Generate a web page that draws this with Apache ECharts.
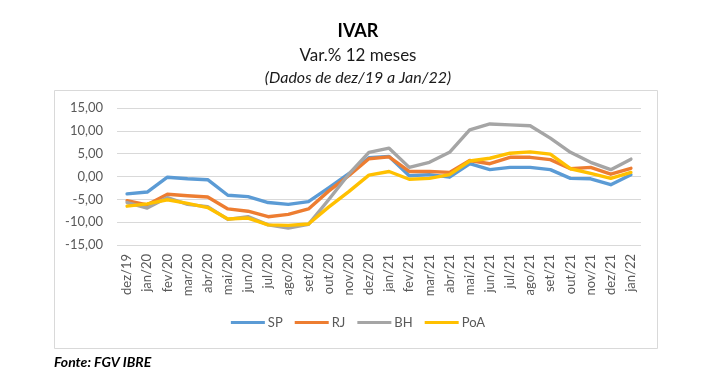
<!DOCTYPE html>
<html><head><meta charset="utf-8">
<script src="https://cdn.jsdelivr.net/npm/echarts@6/dist/echarts.min.js"></script>
<style>html,body{margin:0;padding:0;background:#fff}#c{width:716px;height:392px}</style>
</head><body><div id="c"></div>
<script>
const categories = ['dez/19','jan/20','fev/20','mar/20','abr/20','mai/20','jun/20','jul/20','ago/20','set/20','out/20','nov/20','dez/20','jan/21','fev/21','mar/21','abr/21','mai/21','jun/21','jul/21','ago/21','set/21','out/21','nov/21','dez/21','jan/22'];
const SP  = [-3.8,-3.4,-0.15,-0.5,-0.7,-4.1,-4.4,-5.7,-6.1,-5.5,-2.5,0.6,4.1,4.4,0.15,0.4,-0.15,2.8,1.5,2.0,2.0,1.5,-0.4,-0.5,-1.8,0.4];
const RJ  = [-5.3,-6.2,-3.9,-4.2,-4.5,-7.1,-7.6,-8.8,-8.3,-7.1,-3.2,0.2,3.9,4.3,1.1,1.1,0.9,3.5,2.8,4.2,4.2,3.7,1.7,2.0,0.5,1.8];
const BH  = [-5.7,-6.9,-4.6,-6.1,-6.6,-9.4,-8.8,-10.6,-11.3,-10.5,-5.1,0.5,5.3,6.2,2.0,3.1,5.3,10.2,11.5,11.3,11.1,8.4,5.3,3.1,1.5,3.8];
const PoA = [-6.5,-6.0,-5.1,-5.9,-6.8,-9.3,-9.1,-10.6,-10.7,-10.4,-6.7,-3.3,0.3,1.1,-0.6,-0.4,0.4,3.4,4.0,5.1,5.4,4.9,1.7,0.7,-0.4,0.9];
const yTicks = {min:-15, max:15, interval:5};

const chart = echarts.init(document.getElementById('c'), null, {renderer:'canvas'});
const txt = '#595959';
const FF = 'Lato, "Open Sans", sans-serif';
const mk = (name, data, color) => ({
  name, type:'line', data, symbol:'none', smooth:false,
  lineStyle:{width:3.4, color, cap:'round', join:'round'}, itemStyle:{color}
});
chart.setOption({
  animation:false,
  backgroundColor:'#fff',
  graphic:[
    {type:'rect', shape:{x:54.5,y:90.5,width:603,height:258}, style:{fill:'none', stroke:'#d9d9d9', lineWidth:1}, z:-1},
    {type:'text', left:'center', top:22, style:{text:'IVAR', font:'bold 18px ' + FF, fill:'#000'}},
    {type:'text', left:'center', top:47, style:{text:'Var.% 12 meses', font:'17px ' + FF, fill:'#1a1a1a'}},
    {type:'text', left:'center', top:70, style:{text:'(Dados de dez/19 a Jan/22)', font:'italic 16px ' + FF, fill:'#1a1a1a'}},
    {type:'text', left:54, top:355, style:{text:'Fonte: FGV IBRE', font:'italic bold 14px ' + FF, fill:'#000'}}
  ],
  grid:{left:117, right:75, top:108, bottom:147, containLabel:false},
  legend:{
    bottom:58, left:'center', itemWidth:34, itemHeight:3, itemGap:12,
    icon:'rect',
    textStyle:{color:txt, fontSize:13, fontFamily:FF, padding:[0,0,0,-2]},
    data:['SP','RJ','BH','PoA']
  },
  xAxis:{
    type:'category', data:categories, boundaryGap:true,
    axisLine:{show:false}, axisTick:{show:false},
    axisLabel:{rotate:90, interval:0, color:txt, fontSize:13, fontFamily:FF, margin:9}
  },
  yAxis:{
    type:'value', min:yTicks.min, max:yTicks.max, interval:yTicks.interval,
    axisLine:{show:false}, axisTick:{show:false},
    splitLine:{lineStyle:{color:'#d9d9d9', width:1}},
    axisLabel:{color:txt, fontSize:13, fontFamily:FF, margin:14,
      formatter:v=>v.toFixed(2).replace('.',',')}
  },
  series:[mk('SP',SP,'#5B9BD5'), mk('RJ',RJ,'#ED7D31'), mk('BH',BH,'#A5A5A5'), mk('PoA',PoA,'#FFC000')]
});
</script></body></html>
